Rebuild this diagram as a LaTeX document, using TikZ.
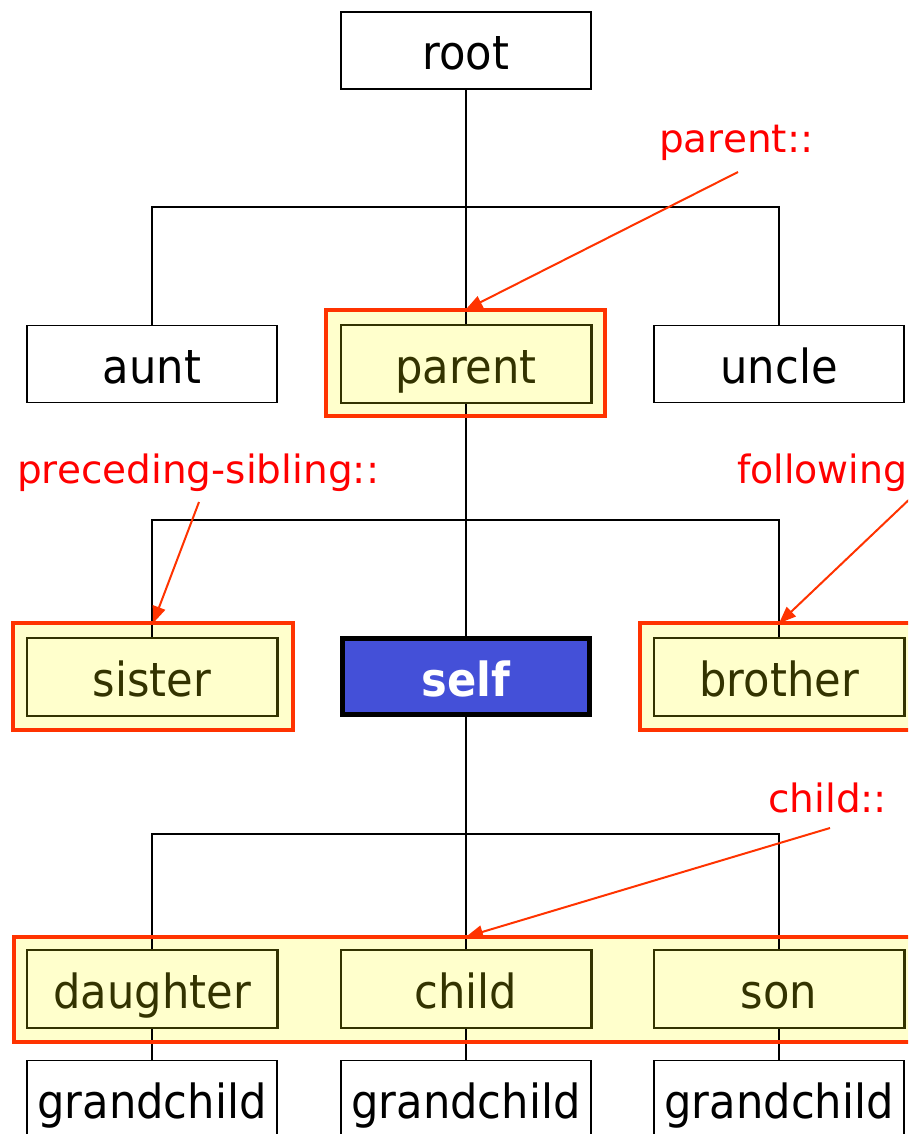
\documentclass[tikz,border=0pt]{standalone}
\usepackage{fontspec}
\usetikzlibrary{arrows.meta}
\newfontfamily\bxfont{DejaVu Sans}[FakeStretch=0.92]
\newfontfamily\lbfont{DejaVu Sans}
\newfontfamily\lbfontc{DejaVu Sans}[FakeStretch=0.97]
\definecolor{hlfill}{HTML}{FFFFCC}
\definecolor{olivec}{HTML}{333300}
\definecolor{redc}{HTML}{FF3300}
\definecolor{labred}{HTML}{FF0000}
\definecolor{selfblue}{HTML}{4450D8}
\begin{document}
\begin{tikzpicture}[x=1pt,y=-1pt,
  plainbox/.style={draw=black,line width=1.5pt,fill=white,minimum width=250pt,minimum height=77pt,
    text height=39pt,text depth=0pt,inner sep=0pt,font=\bxfont\fontsize{47}{50}\selectfont},
  hlbox/.style={plainbox,fill=hlfill,draw=olivec,text=olivec},
  selfbox/.style={plainbox,fill=selfblue,draw=black,line width=5pt,text=white,
    minimum width=247pt,minimum height=76pt,font=\bxfont\bfseries\fontsize{47}{50}\selectfont},
  outfill/.style={fill=hlfill,inner sep=0pt,minimum width=279pt,minimum height=106pt},
  redline/.style={draw=redc,line width=4pt},
  conn/.style={draw=black,line width=2pt},
  lab/.style={text=labred,inner sep=0pt,font=\lbfont\fontsize{39}{42}\selectfont},
  redarrow/.style={draw=redc,line width=2pt,-{Triangle[length=17pt,width=13pt]}}]
\useasboundingbox (0,0) rectangle (908,1134);
\clip (0,0) rectangle (908,1134);
% highlight areas (fills)
\node[outfill] (parentout) at (465.5,363) {};
\node[outfill] (sisterout) at (153,676.5) {};
\node[outfill] (brotherout) at (780,676.5) {};
\node[outfill,minimum width=908pt,minimum height=105pt] (kidsout) at (468,989.5) {};
% boxes
\node[plainbox] (root) at (466,50.5) {root};
\node[plainbox] (aunt) at (152,364) {aunt};
\node[hlbox] (parent) at (466,364) {parent};
\node[plainbox] (uncle) at (779,364) {uncle};
\node[hlbox] (sister) at (152,677) {sister};
\node[selfbox] (self) at (466,676.5) {self};
\node[hlbox] (brother) at (779,677) {brother};
\node[hlbox] (daughter) at (152,989) {daughter};
\node[hlbox] (child) at (466,989) {child};
\node[hlbox] (son) at (779,989) {son};
\node[plainbox] (gc1) at (152,1099) {grandchild};
\node[plainbox] (gc2) at (466,1099) {grandchild};
\node[plainbox] (gc3) at (779,1099) {grandchild};
% connectors
\coordinate (b1) at (466,207);
\coordinate (b2) at (466,520);
\coordinate (b3) at (466,834);
\draw[conn] (root.south) -- (b1);
\draw[conn] (aunt.north) |- (b1) -| (uncle.north);
\draw[conn] (b1) -- (parent.north);
\draw[conn] (parent.south) -- (b2);
\draw[conn] (sister.north) |- (b2) -| (brother.north);
\draw[conn] (b2) -- (self.north);
\draw[conn] (self.south) -- (b3);
\draw[conn] (daughter.north) |- (b3) -| (son.north);
\draw[conn] (b3) -- (child.north);
\draw[conn] (daughter.south) -- (gc1.north);
\draw[conn] (child.south) -- (gc2.north);
\draw[conn] (son.south) -- (gc3.north);
% red borders
\draw[redline] (parentout.north west) rectangle (parentout.south east);
\draw[redline] (sisterout.north west) rectangle (sisterout.south east);
\draw[redline] (brotherout.north west) rectangle (brotherout.south east);
\draw[redline] (kidsout.north west) rectangle (kidsout.south east);
% redraw inner boxes on top
\foreach \n in {parent,sister,brother,daughter,child,son}{
  \draw[olivec,line width=1.5pt] (\n.north west) rectangle (\n.south east);}
% labels
\node[lab,anchor=base west] (lparent) at (659,153) {parent::};
\node[lab,anchor=base west] (lpre) at (17,483) {preceding-sibling::};
\node[lab,anchor=base west,font=\lbfontc\fontsize{39}{42}\selectfont] (lfol) at (737,483) {following};
\node[lab,anchor=base west] (lchild) at (768,812) {child::};
\coordinate (sp) at (738,172);
\coordinate (spre) at (199,502);
\coordinate (sfol) at (915,494);
\coordinate (sch) at (830,828);
\draw[redarrow] (sp) -- (parentout.north);
\draw[redarrow] (spre) -- (sisterout.north);
\draw[redarrow] (sfol) -- (brotherout.north -| brother.north);
\draw[redarrow] (sch) -- (kidsout.north -| child.north);
\end{tikzpicture}
\end{document}
